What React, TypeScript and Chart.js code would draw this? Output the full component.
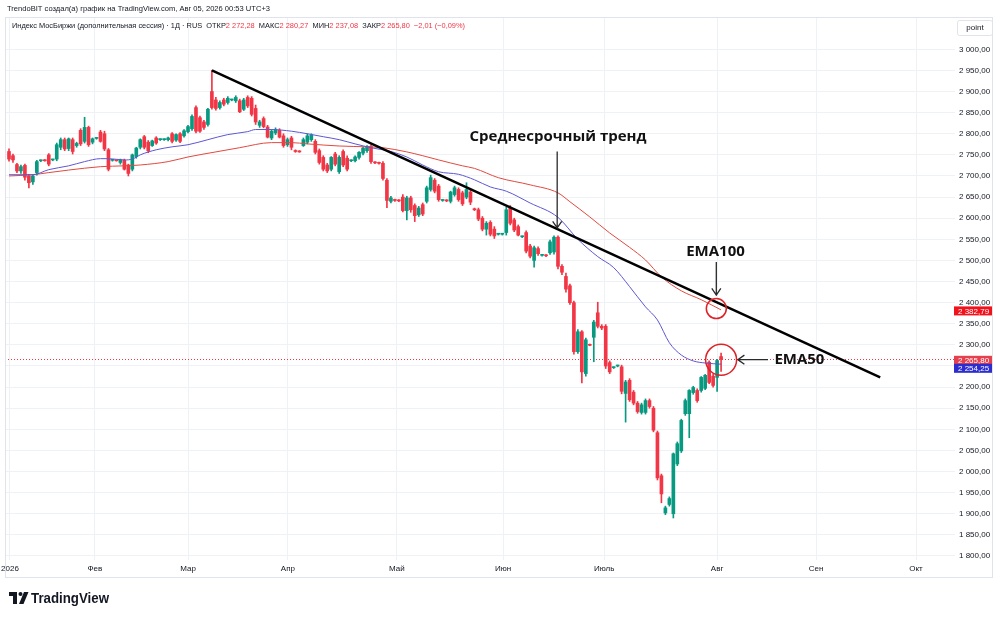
import React, { useEffect, useRef } from 'react';
import { Chart, registerables } from 'chart.js';

Chart.register(...registerables);

// ---------- data ----------
const opens = [
  2758, 2748, 2727, 2712, 2725, 2700, 2686, 2708, 2736, 2737,
  2750, 2738, 2740, 2768, 2786, 2765, 2786, 2772, 2808, 2782,
  2815, 2780, 2789, 2804, 2800, 2762, 2737, 2737, 2732, 2737,
  2726, 2716, 2746, 2768, 2793, 2780, 2772, 2790, 2786, 2786,
  2786, 2800, 2785, 2800, 2795, 2805, 2812, 2862, 2838, 2828,
  2822, 2900, 2880, 2862, 2880, 2874, 2880, 2878, 2878, 2858,
  2886, 2884, 2860, 2820, 2836, 2816, 2790, 2802, 2808, 2795,
  2774, 2790, 2760, 2758, 2772, 2780, 2786, 2782, 2760, 2744,
  2726, 2716, 2752, 2710, 2758, 2742, 2736, 2736, 2744, 2754,
  2760, 2770, 2732, 2731, 2730, 2690, 2640, 2643, 2642, 2650,
  2618, 2648, 2630, 2608, 2632, 2640, 2668, 2690, 2676, 2642,
  2642, 2640, 2656, 2668, 2660, 2650, 2662, 2622, 2620, 2600,
  2574, 2590, 2574, 2562, 2562, 2566, 2624, 2596, 2580, 2556,
  2566, 2534, 2500, 2528, 2512, 2512, 2518, 2520, 2555, 2486,
  2462, 2440, 2400, 2284, 2331, 2232, 2300, 2318, 2376, 2344,
  2344, 2258, 2246, 2250, 2248, 2185, 2216, 2188, 2162, 2140,
  2140, 2168, 2150, 2092, 1990, 1902, 1922, 1900, 2018, 2049,
  2137, 2137, 2187, 2192, 2192, 2197, 2259, 2226, 2223, 2272.28,
];
const highs = [
  2764, 2752, 2730, 2726, 2728, 2704, 2703, 2737, 2738, 2739,
  2753, 2740, 2778, 2790, 2790, 2790, 2790, 2780, 2812, 2839,
  2818, 2790, 2791, 2808, 2806, 2765, 2739, 2738, 2740, 2740,
  2728, 2752, 2768, 2788, 2796, 2784, 2785, 2793, 2788, 2788,
  2792, 2803, 2800, 2803, 2810, 2820, 2845, 2866, 2842, 2832,
  2860, 2950, 2886, 2878, 2884, 2888, 2882, 2890, 2882, 2884,
  2890, 2888, 2868, 2832, 2840, 2820, 2810, 2814, 2812, 2800,
  2790, 2794, 2762, 2760, 2790, 2800, 2800, 2786, 2764, 2748,
  2730, 2746, 2756, 2748, 2762, 2748, 2738, 2748, 2758, 2768,
  2772, 2774, 2734, 2733, 2734, 2694, 2652, 2645, 2644, 2656,
  2652, 2652, 2634, 2628, 2636, 2676, 2702, 2694, 2680, 2644,
  2644, 2664, 2676, 2672, 2664, 2684, 2666, 2624, 2624, 2604,
  2592, 2594, 2580, 2564, 2564, 2626, 2630, 2600, 2584, 2558,
  2570, 2538, 2534, 2532, 2514, 2514, 2548, 2558, 2558, 2490,
  2470, 2444, 2404, 2336, 2334, 2316, 2302, 2358, 2401, 2348,
  2348, 2262, 2248, 2252, 2252, 2216, 2220, 2192, 2166, 2162,
  2172, 2172, 2154, 2096, 1994, 1918, 1940, 2044, 2070, 2124,
  2172, 2194, 2202, 2196, 2225, 2230, 2262, 2232, 2266, 2280.27,
];
const lows = [
  2735, 2732, 2708, 2706, 2690, 2672, 2680, 2702, 2734, 2735,
  2724, 2736, 2736, 2762, 2760, 2760, 2752, 2768, 2772, 2778,
  2770, 2776, 2787, 2780, 2760, 2712, 2735, 2735, 2728, 2714,
  2700, 2712, 2742, 2764, 2764, 2755, 2770, 2775, 2784, 2784,
  2783, 2778, 2782, 2779, 2792, 2802, 2808, 2802, 2803, 2810,
  2818, 2858, 2856, 2858, 2866, 2870, 2878, 2874, 2850, 2855,
  2862, 2842, 2822, 2815, 2814, 2790, 2786, 2798, 2790, 2768,
  2770, 2762, 2756, 2756, 2770, 2776, 2782, 2752, 2728, 2712,
  2708, 2712, 2724, 2706, 2722, 2712, 2734, 2733, 2740, 2750,
  2756, 2730, 2729, 2728, 2690, 2625, 2636, 2640, 2639, 2615,
  2596, 2614, 2592, 2604, 2606, 2636, 2664, 2660, 2640, 2640,
  2639, 2636, 2652, 2640, 2630, 2646, 2632, 2618, 2594, 2570,
  2560, 2558, 2552, 2560, 2560, 2560, 2584, 2568, 2558, 2554,
  2518, 2506, 2484, 2512, 2510, 2509, 2514, 2515, 2480, 2466,
  2425, 2396, 2278, 2280, 2210, 2226, 2298, 2260, 2340, 2336,
  2244, 2232, 2244, 2248, 2184, 2117, 2166, 2158, 2138, 2136,
  2136, 2150, 2094, 1980, 1926, 1898, 1918, 1890, 2014, 2045,
  2133, 2080, 2183, 2164, 2188, 2194, 2208, 2200, 2190, 2237.08,
];
const closes = [
  2740, 2738, 2712, 2722, 2697, 2684, 2700, 2734, 2737, 2736,
  2728, 2738, 2774, 2786, 2764, 2788, 2758, 2777, 2776, 2815,
  2774, 2788, 2789, 2782, 2764, 2716, 2737, 2736, 2738, 2716,
  2706, 2750, 2766, 2786, 2768, 2760, 2783, 2778, 2786, 2787,
  2790, 2782, 2798, 2782, 2807, 2817, 2841, 2806, 2806, 2815,
  2858, 2862, 2860, 2874, 2870, 2884, 2881, 2886, 2852, 2880,
  2866, 2846, 2828, 2828, 2817, 2792, 2806, 2810, 2792, 2772,
  2786, 2768, 2758, 2757, 2786, 2795, 2797, 2756, 2732, 2716,
  2712, 2744, 2728, 2744, 2726, 2716, 2736, 2745, 2756, 2766,
  2770, 2734, 2731, 2730, 2694, 2642, 2648, 2642, 2641, 2618,
  2648, 2620, 2606, 2624, 2610, 2672, 2696, 2664, 2644, 2642,
  2641, 2662, 2672, 2644, 2634, 2668, 2638, 2620, 2598, 2574,
  2588, 2562, 2558, 2562, 2563, 2620, 2588, 2572, 2560, 2556,
  2522, 2510, 2530, 2516, 2512, 2511, 2544, 2555, 2486, 2472,
  2432, 2400, 2284, 2331, 2236, 2312, 2299, 2354, 2344, 2340,
  2250, 2236, 2246, 2251, 2190, 2212, 2170, 2162, 2142, 2158,
  2168, 2154, 2098, 1985, 1947, 1914, 1936, 2042, 2066, 2121,
  2168, 2192, 2199, 2168, 2223, 2228, 2211, 2204, 2263, 2265.8,
];

const ema50Idx = [0, 6, 10, 15, 19, 23, 25, 29, 31, 33, 37, 41, 45, 50, 55, 60, 62, 66, 71, 75, 79, 83, 87, 91, 96, 100, 104, 108, 113, 117, 121, 125, 131, 138, 143, 148, 152, 156, 160, 163, 166, 169, 172, 175, 179];
const ema50Val = [2703, 2703, 2715, 2724, 2734, 2741, 2741, 2738, 2740, 2750, 2762, 2769, 2774, 2786, 2798, 2805, 2810, 2810, 2806, 2800, 2793, 2786, 2776, 2767, 2758, 2745, 2726, 2710, 2704, 2691, 2674, 2664, 2636, 2602, 2550, 2509, 2483, 2438, 2390, 2359, 2305, 2276, 2262, 2257, 2254.25];

const ema100Idx = [0, 6, 10, 15, 23, 29, 33, 40, 45, 52, 58, 66, 71, 75, 83, 90, 94, 100, 104, 108, 114, 117, 123, 131, 138, 141, 146, 151, 156, 160, 164, 169, 174, 179];
const ema100Val = [2700, 2703, 2708, 2714, 2722, 2724, 2726, 2734, 2745, 2757, 2767, 2779, 2779, 2776, 2771, 2769, 2767, 2757, 2748, 2738, 2724, 2718, 2696, 2679, 2660, 2639, 2603, 2565, 2531, 2501, 2461, 2428, 2407, 2382.79];

const trendIdx = [51, 219];
const trendVal = [2950, 2223];

const monthTicks = [0.25, 21.6, 45.0, 70.1, 97.5, 124.2, 149.6, 178.0, 202.9, 228.0];
const monthLabels = ['2026', 'Фев', 'Мар', 'Апр', 'Май', 'Июн', 'Июль', 'Авг', 'Сен', 'Окт'];
const priceTicks = [1800, 1850, 1900, 1950, 2000, 2050, 2100, 2150, 2200, 2250, 2300, 2350, 2400, 2450, 2500, 2550, 2600, 2650, 2700, 2750, 2800, 2850, 2900, 2950, 3000];

const lastClose = 2265.8;
const lastEma50 = 2254.25;
const lastEma100 = 2382.79;

const headerLine1 = 'TrendoBIT создал(а) график на TradingView.com, Авг 05, 2026 00:53 UTC+3';
const headerTitle = 'Индекс МосБиржи (дополнительная сессия) · 1Д · RUS  ';
const ohlcLabels = ['ОТКР', 'МАКС', 'МИН', 'ЗАКР'];
const ohlcValues = ['2 272,28', '2 280,27', '2 237,08', '2 265,80'];
const changeText = '−2,01 (−0,09%)';

// ---------- styles ----------
const GREEN = '#089981';
const RED = '#f23645';
const TEXT = '#131722';
const GRID = '#eef1f6';
const FONT = '"Liberation Sans", Arial, sans-serif';
const BOLD_FONT = '"Open Sans", "Liberation Sans", sans-serif';

const X_MIN = -1.006;
const X_MAX = 237.8;
const Y_MIN = 1790.5;
const Y_MAX = 3076.5;

function fmtPrice(v: number): string {
  const [a, b] = v.toFixed(2).split('.');
  return a.replace(/\B(?=(\d{3})+(?!\d))/g, ' ') + ',' + b;
}

function drawSegments(ctx: CanvasRenderingContext2D, segs: [string, string][], x: number, y: number, width: number) {
  let total = 0;
  segs.forEach(([t]) => { total += ctx.measureText(t).width; });
  const sx = width / total;
  ctx.save();
  ctx.translate(x, y);
  ctx.scale(sx, 1);
  let cx = 0;
  segs.forEach(([t, c]) => {
    ctx.fillStyle = c;
    ctx.fillText(t, cx, 0);
    cx += ctx.measureText(t).width;
  });
  ctx.restore();
}

const annotationTexts = [
  { text: 'Среднесрочный тренд', x: 138.0, y: 2793, align: 'center' as CanvasTextAlign },
  { text: 'EMA100', x: 177.6, y: 2521, align: 'center' as CanvasTextAlign },
  { text: 'EMA50', x: 192.4, y: 2265, align: 'left' as CanvasTextAlign },
];
const annotationArrows = [
  { x1: 137.8, y1: 2758, x2: 137.8, y2: 2577 },
  { x1: 177.8, y1: 2496, x2: 177.8, y2: 2418 },
  { x1: 190.8, y1: 2265, x2: 183.2, y2: 2265 },
];
const annotationCircles = [
  { x: 177.8, y: 2386, r: 10 },
  { x: 179, y: 2264.5, r: 15.5 },
];

const overlayPlugin = {
  id: 'overlay',
  beforeDatasetsDraw(chart: any) {
    const { ctx, chartArea: a, scales } = chart;
    const py = Math.round(scales.y.getPixelForValue(lastClose)) + 0.5;
    ctx.save();
    ctx.strokeStyle = RED;
    ctx.lineWidth = 1;
    ctx.setLineDash([1, 2]);
    ctx.beginPath();
    ctx.moveTo(a.left, py);
    ctx.lineTo(a.right, py);
    ctx.stroke();
    ctx.restore();
  },
  afterDraw(chart: any) {
    const { ctx, scales } = chart;
    const xs = scales.x;
    const ys = scales.y;
    ctx.save();

    // frame
    ctx.strokeStyle = '#e0e3eb';
    ctx.lineWidth = 1;
    ctx.strokeRect(5.5, 17.5, 987, 560);

    // header
    ctx.textBaseline = 'middle';
    ctx.textAlign = 'left';
    ctx.font = `8px ${FONT}`;
    drawSegments(ctx, [[headerLine1, TEXT]], 7, 9, 263);
    const segs: [string, string][] = [[headerTitle, TEXT]];
    ohlcLabels.forEach((l, i) => {
      segs.push([(i ? '  ' : '') + l, TEXT]);
      segs.push([ohlcValues[i], RED]);
    });
    segs.push(['  ' + changeText, RED]);
    drawSegments(ctx, segs, 12, 26, 453);

    // "point" box
    ctx.strokeStyle = '#e0e3eb';
    ctx.beginPath();
    ctx.roundRect(957.5, 20.5, 35, 15, 2);
    ctx.stroke();
    ctx.fillStyle = TEXT;
    ctx.textAlign = 'center';
    ctx.font = `8px ${FONT}`;
    ctx.fillText('point', 975, 28);

    // right-axis value labels
    const tag = (value: number, yc: number, bg: string) => {
      ctx.fillStyle = bg;
      ctx.fillRect(954, yc - 4.5, 38, 9);
      ctx.fillStyle = '#ffffff';
      ctx.textAlign = 'left';
      ctx.font = `8px ${FONT}`;
      ctx.fillText(fmtPrice(value), 958, yc + 0.5);
    };
    const yE100 = ys.getPixelForValue(lastEma100);
    const yClose = ys.getPixelForValue(lastClose);
    const yE50 = Math.max(ys.getPixelForValue(lastEma50), yClose + 9);
    tag(lastEma100, yE100 + 1, '#f2121b');
    tag(lastClose, yClose + 1, '#e5404d');
    tag(lastEma50, yE50, '#2c2ccf');

    // annotations
    ctx.strokeStyle = '#2a2a2a';
    ctx.lineWidth = 1.3;
    annotationArrows.forEach((ar) => {
      const x1 = xs.getPixelForValue(ar.x1), y1 = ys.getPixelForValue(ar.y1);
      const x2 = xs.getPixelForValue(ar.x2), y2 = ys.getPixelForValue(ar.y2);
      const ang = Math.atan2(y2 - y1, x2 - x1);
      ctx.beginPath();
      ctx.moveTo(x1, y1);
      ctx.lineTo(x2, y2);
      ctx.moveTo(x2 + 8 * Math.cos(ang + Math.PI - 0.6), y2 + 8 * Math.sin(ang + Math.PI - 0.6));
      ctx.lineTo(x2, y2);
      ctx.lineTo(x2 + 8 * Math.cos(ang + Math.PI + 0.6), y2 + 8 * Math.sin(ang + Math.PI + 0.6));
      ctx.stroke();
    });
    ctx.strokeStyle = '#dd2228';
    ctx.lineWidth = 1.5;
    annotationCircles.forEach((c) => {
      ctx.beginPath();
      ctx.arc(xs.getPixelForValue(c.x), ys.getPixelForValue(c.y), c.r, 0, Math.PI * 2);
      ctx.stroke();
    });
    ctx.fillStyle = '#111111';
    ctx.font = `bold 15px ${BOLD_FONT}`;
    annotationTexts.forEach((t) => {
      ctx.textAlign = t.align;
      ctx.fillText(t.text, xs.getPixelForValue(t.x), ys.getPixelForValue(t.y));
    });

    // TradingView logo
    ctx.fillStyle = TEXT;
    ctx.fillRect(9, 592, 8, 4);
    ctx.fillRect(13, 592, 4, 12);
    ctx.beginPath();
    ctx.arc(20.5, 594, 2, 0, Math.PI * 2);
    ctx.fill();
    ctx.beginPath();
    ctx.moveTo(24, 592);
    ctx.lineTo(28.5, 592);
    ctx.lineTo(23.5, 604);
    ctx.lineTo(19, 604);
    ctx.closePath();
    ctx.fill();
    ctx.textAlign = 'left';
    ctx.font = `bold 15px ${FONT}`;
    drawSegments(ctx, [['TradingView', TEXT]], 31, 598.5, 78);

    ctx.restore();
  },
};

export default function App() {
  const ref = useRef<HTMLCanvasElement | null>(null);

  useEffect(() => {
    if (!ref.current) return;
    const idx = opens.map((_, i) => i);
    const colors = idx.map((i) => (closes[i] >= opens[i] ? GREEN : RED));
    const chart = new Chart(ref.current, {
      type: 'bar',
      data: {
        datasets: [
          {
            type: 'line',
            label: 'Trend',
            data: trendIdx.map((x, k) => ({ x, y: trendVal[k] })),
            borderColor: '#000000',
            borderWidth: 2.5,
            pointRadius: 0,
            order: 0,
          } as any,
          {
            type: 'line',
            label: 'EMA50',
            data: ema50Idx.map((x, k) => ({ x, y: ema50Val[k] })),
            borderColor: '#5d57d3',
            borderWidth: 1,
            pointRadius: 0,
            cubicInterpolationMode: 'monotone',
            order: 1,
          } as any,
          {
            type: 'line',
            label: 'EMA100',
            data: ema100Idx.map((x, k) => ({ x, y: ema100Val[k] })),
            borderColor: '#e2493f',
            borderWidth: 1,
            pointRadius: 0,
            cubicInterpolationMode: 'monotone',
            order: 1,
          } as any,
          {
            type: 'bar',
            label: 'Bodies',
            data: idx.map((i) => ({ x: i, y: [opens[i], closes[i]] })),
            backgroundColor: colors,
            barThickness: 3,
            minBarLength: 1,
            grouped: false,
            borderWidth: 0,
            order: 2,
          } as any,
          {
            type: 'bar',
            label: 'Wicks',
            data: idx.map((i) => ({ x: i, y: [lows[i], highs[i]] })),
            backgroundColor: colors,
            barThickness: 1,
            grouped: false,
            borderWidth: 0,
            order: 3,
          } as any,
        ],
      },
      options: {
        responsive: false,
        maintainAspectRatio: false,
        devicePixelRatio: 1,
        animation: false,
        events: [],
        layout: { padding: { left: 5, right: 5, top: 17, bottom: 39 } },
        plugins: { legend: { display: false }, tooltip: { enabled: false } },
        scales: {
          x: {
            type: 'linear',
            min: X_MIN,
            max: X_MAX,
            bounds: 'data',
            offset: false,
            grid: { color: GRID, drawTicks: false, offset: false },
            border: { display: false },
            ticks: {
              autoSkip: false,
              maxRotation: 0,
              padding: 4,
              color: TEXT,
              font: { family: FONT, size: 8 },
              callback: (_v: any, i: number) => monthLabels[i],
            },
            afterBuildTicks: (axis: any) => {
              axis.ticks = monthTicks.map((v) => ({ value: v }));
            },
            afterFit: (s: any) => {
              s.height = 18;
              s.paddingLeft = 0;
              s.paddingRight = 0;
            },
          },
          y: {
            type: 'linear',
            position: 'right',
            min: Y_MIN,
            max: Y_MAX,
            bounds: 'data',
            grid: { color: GRID, drawTicks: false },
            border: { display: false },
            ticks: {
              autoSkip: false,
              padding: 4,
              crossAlign: 'near',
              color: TEXT,
              font: { family: FONT, size: 8 },
              callback: (v: any) => fmtPrice(Number(v)),
            },
            afterBuildTicks: (axis: any) => {
              axis.ticks = priceTicks.map((v) => ({ value: v }));
            },
            afterFit: (s: any) => {
              s.width = 40;
              s.paddingTop = 0;
              s.paddingBottom = 0;
            },
          },
        },
      } as any,
      plugins: [overlayPlugin],
    });
    return () => chart.destroy();
  }, []);

  return (
    <div style={{ position: 'fixed', left: 0, top: 0, width: 1000, height: 617, background: '#ffffff' }}>
      <canvas ref={ref} width={1000} height={617} style={{ display: 'block' }} />
    </div>
  );
}
